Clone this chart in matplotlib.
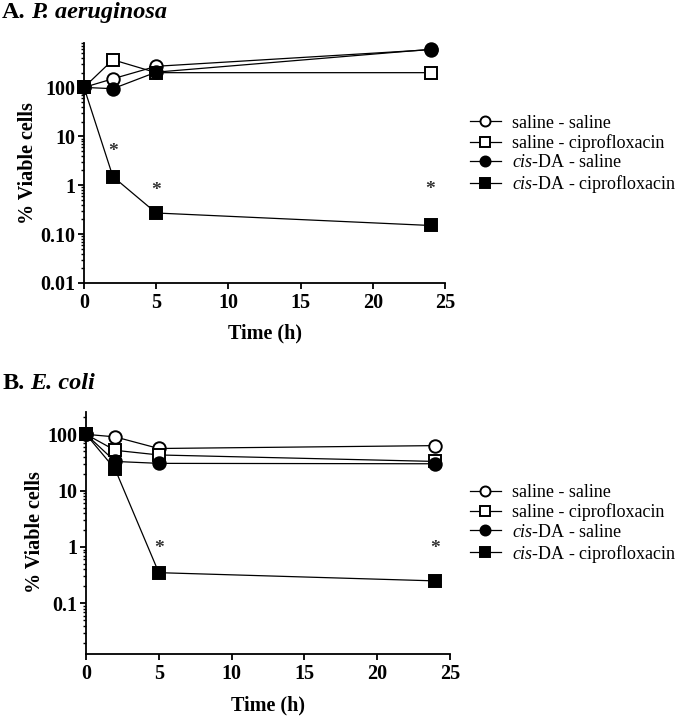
import matplotlib
matplotlib.use("Agg")
import matplotlib.pyplot as plt
from matplotlib.ticker import FixedLocator, LogLocator, NullFormatter, FixedFormatter
import numpy as np

plt.rcParams['font.family'] = ['Liberation Serif', 'DejaVu Serif']
plt.rcParams['mathtext.fontset'] = 'custom'
plt.rcParams['mathtext.rm'] = 'Liberation Serif'
plt.rcParams['mathtext.it'] = 'Liberation Serif:italic'
plt.rcParams['mathtext.bf'] = 'Liberation Serif:bold'

# ---------------- data ----------------
time_h = [0, 2, 5, 24]
series_labels = ["saline - saline", "saline - ciprofloxacin",
                 r"$\it{cis}$-DA - saline", r"$\it{cis}$-DA - ciprofloxacin"]

# Panel A: P. aeruginosa
pa_saline_saline = [100, 150, 270, 590]
pa_saline_cipro = [100, 367, 200, 200]
pa_cisda_saline = [100, 94, 205, 600]
pa_cisda_cipro = [100, 1.5, 0.27, 0.15]
pa_star_x = [2, 5, 24]
pa_star_y = [4.8, 0.79, 0.81]

# Panel B: E. coli
ec_saline_saline = [100, 90, 56, 63]
ec_saline_cipro = [100, 52, 43, 33]
ec_cisda_saline = [100, 33, 30.5, 30]
ec_cisda_cipro = [100, 24, 0.35, 0.25]
ec_star_x = [5, 24]
ec_star_y = [0.95, 0.95]

pa_yticks = [0.01, 0.1, 1, 10, 100]
pa_yticklabels = ["0.01", "0.10", "1", "10", "100"]
ec_yticks = [0.1, 1, 10, 100]
ec_yticklabels = ["0.1", "1", "10", "100"]
xticks = [0, 5, 10, 15, 20, 25]

# ---------------- styling ----------------
styles = [
    dict(marker='o', mfc='white', mec='black'),
    dict(marker='s', mfc='white', mec='black'),
    dict(marker='o', mfc='black', mec='black'),
    dict(marker='s', mfc='black', mec='black'),
]
msizes = [9.0, 9.0, 9.0, 9.0]

fig = plt.figure(figsize=(6.8, 7.17), dpi=100)
W, H = 680, 717

def px_axes(l, r, t, b):
    return fig.add_axes([l / W, 1 - b / H, (r - l) / W, (b - t) / H])

axA = px_axes(84, 445, 42.7, 283)
axB = px_axes(86, 450, 411.7, 654)

def draw(ax, data, ylim, yticks, yticklabels, sx, sy, xlab_y, ylab_x, ylab_y):
    handles = []
    for vals, st, ms in zip(data, styles, msizes):
        h, = ax.plot(time_h, vals, color='black', lw=0.9, ms=ms, mew=1.4,
                     clip_on=False, zorder=3, **st)
        handles.append(h)
    for x, y in zip(sx, sy):
        ax.text(x, y, "*", ha='center', va='center', fontsize=14,
                fontweight='bold', color='#333333')
    ax.set_yscale('log')
    ax.set_ylim(*ylim)
    ax.set_xlim(0, 25)
    ax.yaxis.set_major_locator(FixedLocator(yticks))
    ax.yaxis.set_major_formatter(FixedFormatter(yticklabels))
    ax.yaxis.set_minor_locator(LogLocator(base=10, subs=np.arange(2, 10), numticks=20))
    ax.yaxis.set_minor_formatter(NullFormatter())
    ax.set_xticks(xticks)
    ax.set_xticklabels([str(v) for v in xticks])
    for s in ['top', 'right']:
        ax.spines[s].set_visible(False)
    for s in ['left', 'bottom']:
        ax.spines[s].set_linewidth(1.3)
    ax.tick_params(axis='both', which='major', direction='out', length=4.5,
                   width=1.3, labelsize=14.5)
    ax.tick_params(axis='y', which='major', pad=1.5)
    ax.tick_params(axis='x', which='major', pad=3)
    ax.tick_params(axis='y', which='minor', direction='out', length=2.5, width=1.0)
    for lab in ax.get_xticklabels() + ax.get_yticklabels():
        lab.set_fontweight('bold')
    ax.set_xlabel("Time (h)", fontsize=14.5, fontweight='bold')
    ax.set_ylabel("% Viable cells", fontsize=14.5, fontweight='bold')
    ax.xaxis.set_label_coords(0.5, xlab_y)
    ax.yaxis.set_label_coords(ylab_x, ylab_y)
    return handles

hA = draw(axA, [pa_saline_saline, pa_saline_cipro, pa_cisda_saline, pa_cisda_cipro],
          (0.01, 820), pa_yticks, pa_yticklabels, pa_star_x, pa_star_y,
          -0.17, -0.127, 0.5)
hB = draw(axB, [ec_saline_saline, ec_saline_cipro, ec_cisda_saline, ec_cisda_cipro],
          (0.0126, 252), ec_yticks, ec_yticklabels, ec_star_x, ec_star_y,
          -0.17, -0.113, 0.505)

def legend(handles, ycenter):
    fig.legend(handles, series_labels, loc='center left',
               bbox_to_anchor=(470 / W, 1 - ycenter / H),
               bbox_transform=fig.transFigure, frameon=False, fontsize=13,
               handlelength=1.7, handletextpad=0.6, labelspacing=0.12,
               borderpad=0, borderaxespad=0, markerscale=0.8)

legend(hA, 155)
legend(hB, 524.5)

# Panel titles: bold letter followed by bold-italic species name
fig.canvas.draw()
r = fig.canvas.get_renderer()
for (x, y, letter, species) in [(2, 18, "A.", "P. aeruginosa"), (3, 389, "B.", "E. coli")]:
    t1 = fig.text(x / W, 1 - y / H, letter, fontsize=17.5, fontweight='bold',
                  va='baseline', ha='left')
    bb = t1.get_window_extent(renderer=r)
    fig.text((bb.x1 + 5) / W, 1 - y / H, species, fontsize=17.5, fontweight='bold',
             fontstyle='italic', va='baseline', ha='left')

fig.savefig("out.png", dpi=100)
